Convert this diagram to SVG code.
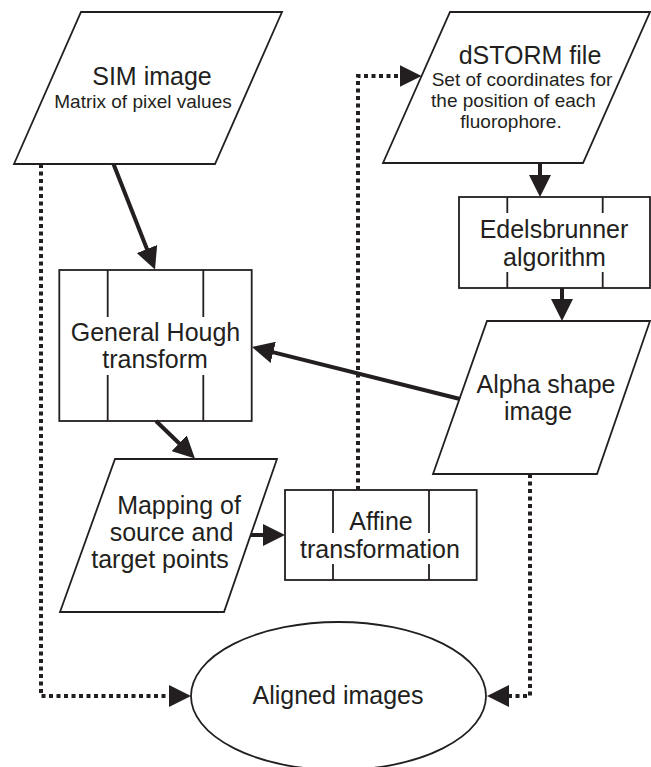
<svg xmlns="http://www.w3.org/2000/svg" width="651" height="767" viewBox="0 0 651 767">
<defs>
<style>
.shape{fill:#fff;stroke:#231f20;stroke-width:1.8}
.div{fill:none;stroke:#231f20;stroke-width:1.8}
.t{font-family:"Liberation Sans",Arial,sans-serif;fill:#231f20;text-anchor:middle}
.big{font-size:25px}
.small{font-size:19px}
.solid{fill:none;stroke:#231f20;stroke-width:4;marker-end:url(#ah)}
.dot{fill:none;stroke:#231f20;stroke-width:4;stroke-dasharray:4 3.5;marker-end:url(#ah)}
</style>
<marker id="ah" markerUnits="userSpaceOnUse" markerWidth="22" markerHeight="22" refX="10" refY="11" orient="auto">
<path d="M0,0 L22,11 L0,22 z" fill="#231f20"/>
</marker>
</defs>
<rect width="651" height="767" fill="#fff"/>

<g id="sim">
<polygon class="shape" points="81,12 282,12 215,164 14,164"/>
<text class="t big" x="152" y="85">SIM image</text>
<text class="t small" x="143" y="108">Matrix of pixel values</text>
</g>

<g id="dstorm">
<polygon class="shape" points="450,12 650,12 583,163 383,163"/>
<text class="t big" x="530" y="64">dSTORM file</text>
<text class="t small" x="522" y="86">Set of coordinates for</text>
<text class="t small" x="513.5" y="107">the position of each</text>
<text class="t small" x="511" y="128">fluorophore.</text>
</g>

<g id="edelsbrunner">
<rect class="shape" x="459" y="197" width="191" height="91"/>
<path class="div" d="M507.3,197V213M507.3,272V288M602.7,197V213M602.7,272V288"/>
<text class="t big" x="554" y="238">Edelsbrunner</text>
<text class="t big" x="554.5" y="266">algorithm</text>
</g>

<g id="hough">
<rect class="shape" x="59.3" y="270" width="192.4" height="151"/>
<path class="div" d="M107.7,270V317M107.7,375V421M203.3,270V317M203.3,375V421"/>
<text class="t big" x="155.5" y="341">General Hough</text>
<text class="t big" x="155" y="368">transform</text>
</g>

<g id="alpha">
<polygon class="shape" points="487,321 650,321 597,474 433,474"/>
<text class="t big" x="546" y="393">Alpha shape</text>
<text class="t big" x="538" y="420">image</text>
</g>

<g id="mapping">
<polygon class="shape" points="115,459 277,459 224,612 60,612"/>
<text class="t big" x="179" y="514">Mapping of</text>
<text class="t big" x="171.5" y="541">source and</text>
<text class="t big" x="160" y="568">target points</text>
</g>

<g id="affine">
<rect class="shape" x="285" y="490" width="191.7" height="90"/>
<path class="div" d="M333,490V533M333,564V580M429,490V533M429,564V580"/>
<text class="t big" x="381" y="530">Affine</text>
<text class="t big" x="380" y="558">transformation</text>
</g>

<g id="aligned">
<ellipse class="shape" cx="338.5" cy="696" rx="147.5" ry="74"/>
<text class="t big" x="338" y="704">Aligned images</text>
</g>

<g id="connectors">
<path class="solid" d="M113.5,164 L150.6,258.3"/>
<path class="solid" d="M540,163 V185"/>
<path class="solid" d="M562,288 V309"/>
<path class="solid" d="M460,399 L263.6,349.9"/>
<path class="solid" d="M156,421 L186.3,450.2"/>
<path class="solid" d="M251,535 H273"/>
<path class="dot" d="M358,490 V76 H409.6"/>
<path class="dot" d="M41,164 V696 H179"/>
<path class="dot" d="M530,474 V696 H499"/>
</g>
</svg>
